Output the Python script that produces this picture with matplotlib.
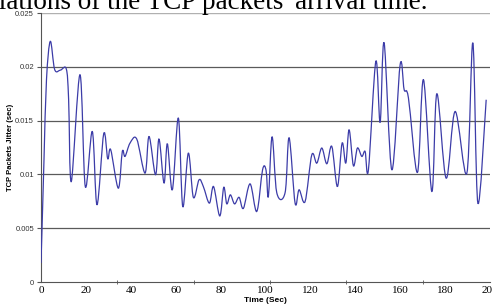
import numpy as np
import matplotlib.pyplot as plt
from matplotlib.path import Path
from matplotlib.patches import PathPatch

# Valores (tiempo en s, jitter en s)
time_sec = [0.0, 0.45, 1.34, 2.45, 4.14, 6.10, 8.70, 11.27, 12.30, 13.50, 17.37, 19.73,
            22.85, 24.94, 27.93, 29.71, 31.05, 34.43, 36.21, 37.42, 39.64, 42.63,
            46.33, 48.11, 51.00, 52.56, 54.79, 56.26, 58.49, 61.16, 63.12, 65.61,
            67.84, 70.38, 72.29, 74.97, 76.84, 79.60, 81.38, 82.72, 84.32, 86.19,
            88.20, 90.11, 93.10, 96.08, 98.66, 100.22, 101.25, 102.90, 104.99, 108.69,
            110.47, 113.14, 114.92, 117.59, 120.58, 122.81, 125.03, 127.26, 129.49, 131.98,
            134.08, 135.72, 137.19, 139.11, 140.89, 142.85, 144.32, 145.79, 149.09, 151.00,
            152.78, 156.21, 159.91, 161.69, 163.61, 167.62, 170.29, 174.03, 176.26, 180.40,
            184.41, 189.62, 192.29, 194.52, 198.22]
jitter = [0.00177, 0.00484, 0.01136, 0.01881, 0.02237, 0.01974, 0.01970, 0.01980, 0.01700, 0.00934, 0.01927, 0.00887,
          0.01399, 0.00717, 0.01378, 0.01145, 0.01229, 0.00872, 0.01213, 0.01167, 0.01291, 0.01329,
          0.01012, 0.01353, 0.00996, 0.01329, 0.00919, 0.01285, 0.00857, 0.01524, 0.00701, 0.01198,
          0.00787, 0.00950, 0.00887, 0.00733, 0.00887, 0.00614, 0.00880, 0.00726, 0.00810, 0.00726,
          0.00787, 0.00684, 0.00912, 0.00656, 0.01043, 0.01038, 0.00794, 0.01350, 0.00829, 0.00831,
          0.01341, 0.00733, 0.00857, 0.00748, 0.01182, 0.01105, 0.01245, 0.01099, 0.01260, 0.00887,
          0.01291, 0.01105, 0.01415, 0.01080, 0.01245, 0.01167, 0.01213, 0.01043, 0.02051, 0.01483,
          0.02222, 0.01043, 0.02020, 0.01788, 0.01710, 0.01018, 0.01881, 0.00841, 0.01750, 0.00965,
          0.01585, 0.01012, 0.02222, 0.00733, 0.01694]

y_ticks = [0, 0.005, 0.01, 0.015, 0.02, 0.025]
y_tick_labels = ["0", "0.005", "0.01", "0.015", "0.02", "0.025"]
x_ticks = [0, 20, 40, 60, 80, 100, 120, 140, 160, 180, 200]


def smooth_path(xs, ys, k=1 / 6):
    # linea suavizada estilo Excel (bezier por Catmull-Rom)
    pts = np.column_stack([xs, ys])
    verts = [pts[0]]
    codes = [Path.MOVETO]
    n = len(pts)
    for i in range(n - 1):
        p0 = pts[max(i - 1, 0)]
        p1 = pts[i]
        p2 = pts[i + 1]
        p3 = pts[min(i + 2, n - 1)]
        verts += [p1 + (p2 - p0) * k, p2 - (p3 - p1) * k, p2]
        codes += [Path.CURVE4] * 3
    return Path(verts, codes)


fig = plt.figure(figsize=(4.92, 3.06), dpi=100)
ax = fig.add_axes([0.0833, 0.0784, 0.913, 0.8791])

for yv in y_ticks[1:-1]:
    ax.axhline(yv, color="#5a5a5a", lw=0.9, zorder=1)
ax.axhline(y_ticks[-1], color="#b0b0b0", lw=1.0, zorder=1)

ax.plot(time_sec, jitter, alpha=0)
ax.add_patch(PathPatch(smooth_path(time_sec, jitter), fill=False,
                       edgecolor="#3c3ca8", lw=0.9, zorder=3))

ax.set_xlim(0, 200)
ax.set_ylim(0, 0.025)
ax.set_yticks(y_ticks)
ax.set_yticklabels(y_tick_labels, fontsize=5.5, family="Liberation Sans", color="#333333")
ax.set_xticks(x_ticks)
ax.set_xticklabels([str(v) for v in x_ticks], fontsize=8, family="Liberation Serif")
ax.set_xticks(np.arange(0, 201, 34), minor=True)
ax.tick_params(axis="x", which="major", length=0, pad=3)
ax.tick_params(axis="x", which="minor", length=3, direction="inout", color="#555555")
ax.tick_params(axis="y", length=3, color="#555555", pad=2)

for s in ["top", "right"]:
    ax.spines[s].set_visible(False)
ax.spines["left"].set_color("#555555")
ax.spines["bottom"].set_color("#555555")

ax.set_ylabel("TCP Packets Jitter (sec)", fontsize=5.5, fontweight="bold",
              family="Liberation Sans", labelpad=1)
ax.set_xlabel("Time (Sec)", fontsize=6, fontweight="bold",
              family="Liberation Sans", labelpad=1)

fig.text(428 / 492, 1 - 9 / 306, "variations of the TCP packets' arrival time.",
         ha="right", va="baseline", fontsize=19.5, family="Liberation Serif")

fig.savefig("out.png", dpi=100)
